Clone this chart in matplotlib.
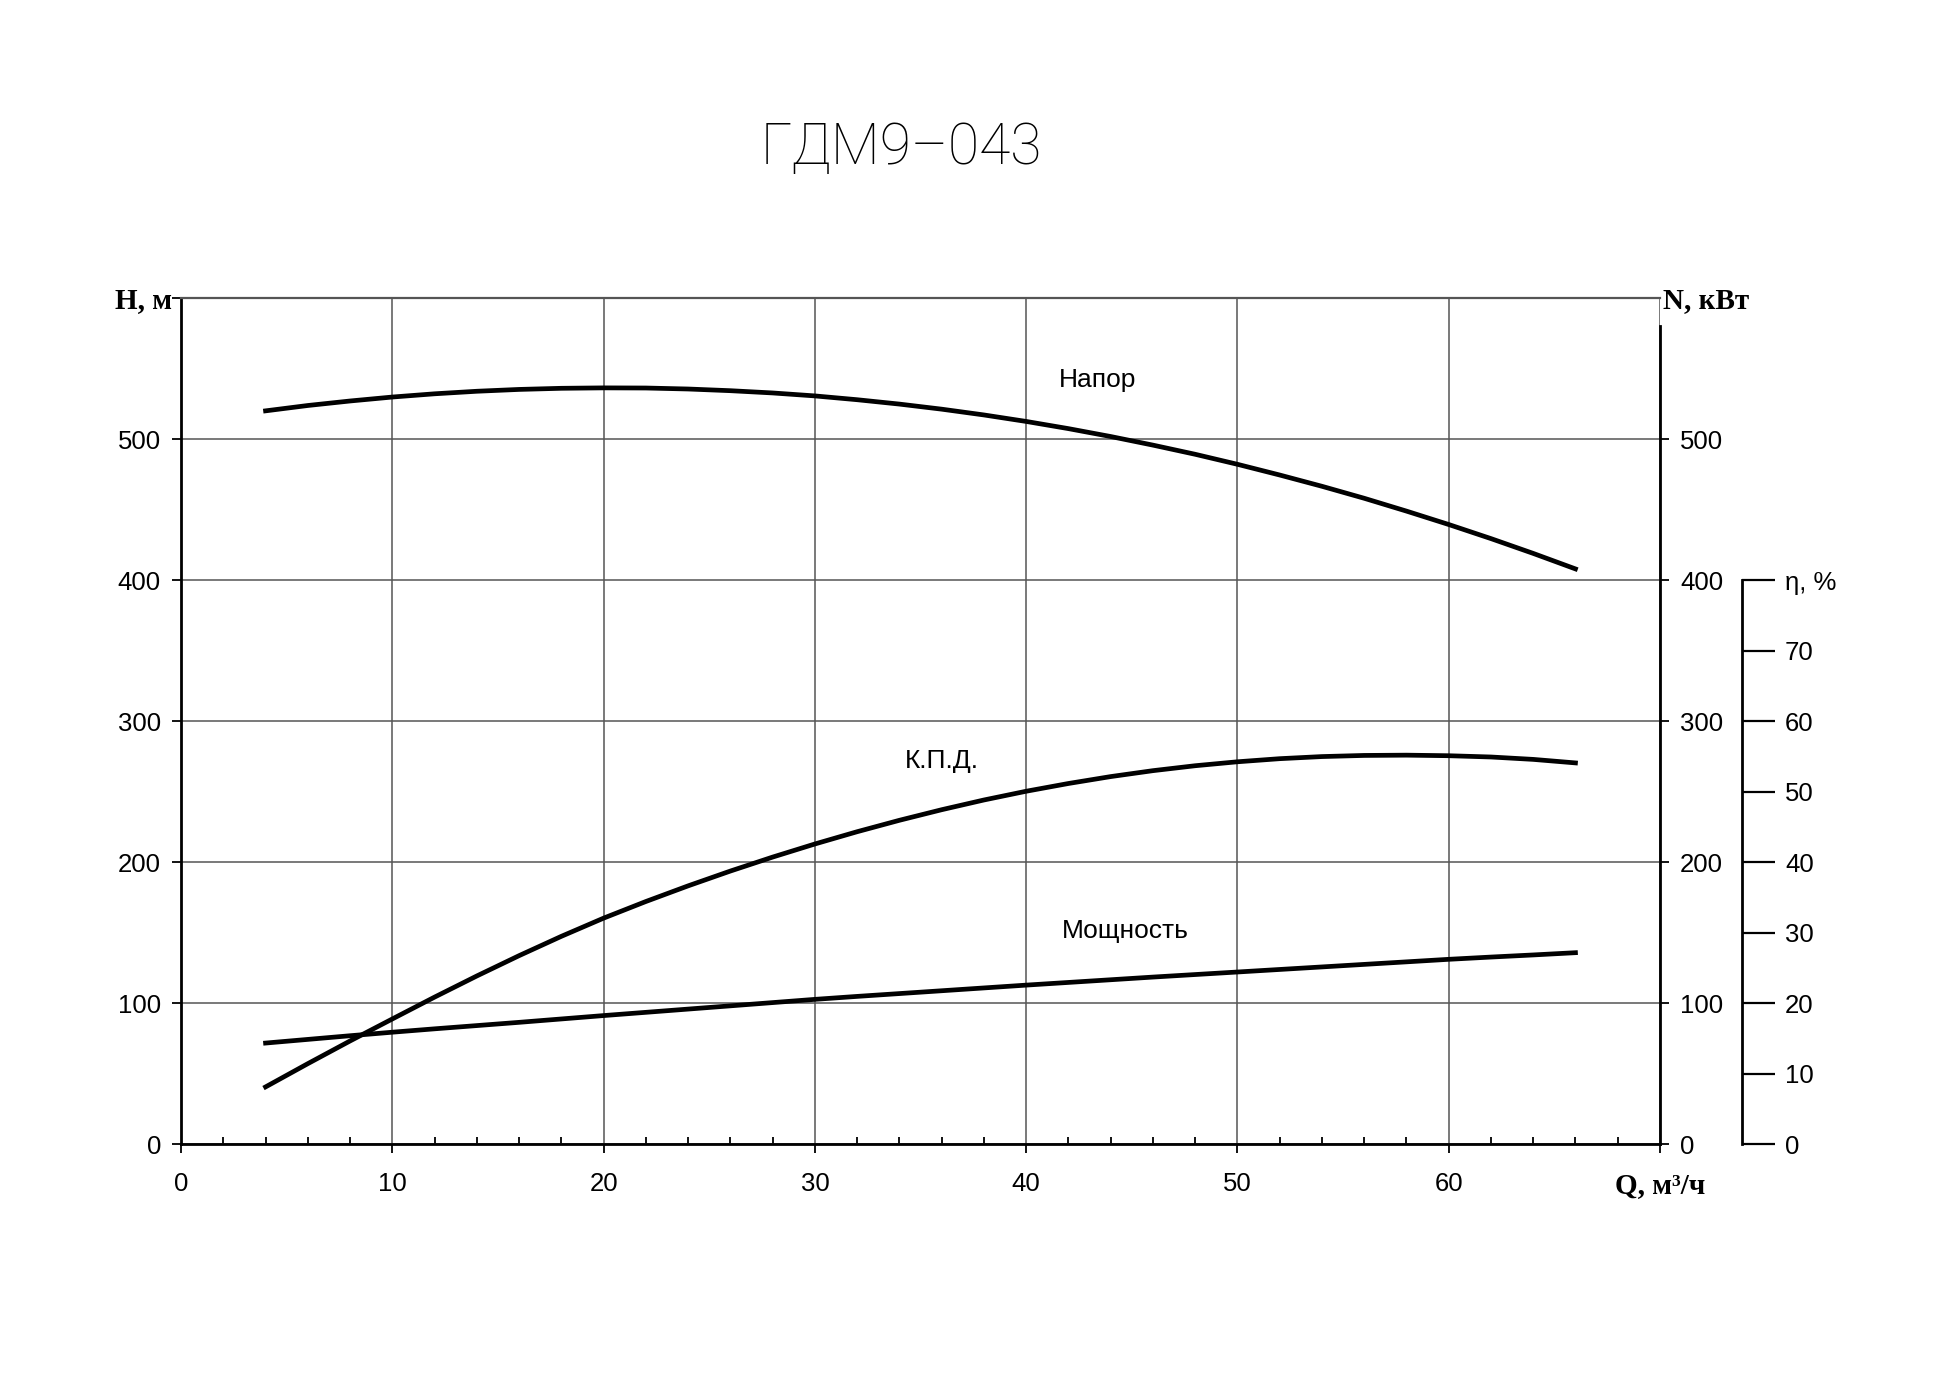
# coding=utf-8
"""Pump performance curves for ГДМ9-043: head, efficiency and power vs flow."""

import matplotlib
matplotlib.use("Agg")
import matplotlib.pyplot as plt
from matplotlib.ticker import MultipleLocator

# Flow rate, m3/h
flow = [4, 6, 8, 10, 12, 14, 16, 18, 20, 22, 24, 26, 28, 30, 32, 34, 36,
        38, 40, 42, 44, 46, 48, 50, 52, 54, 56, 58, 60, 62, 64, 66]
# Head, m
head = [520.0, 523.8, 527.0, 529.8, 532.1, 533.9, 535.2, 536.0, 536.3,
        536.2, 535.5, 534.3, 532.7, 530.6, 527.9, 524.8, 521.2, 517.1,
        512.5, 507.4, 501.8, 495.7, 489.2, 482.1, 474.5, 466.5, 458.0,
        448.9, 439.4, 429.4, 418.9, 407.9]
# Efficiency, %
efficiency = [8.1, 11.4, 14.62, 17.74, 20.84, 23.84, 26.72, 29.46, 32.04,
              34.4, 36.62, 38.72, 40.7, 42.56, 44.3, 45.92, 47.42, 48.8,
              50.04, 51.14, 52.12, 52.96, 53.66, 54.22, 54.66, 54.96, 55.12,
              55.16, 55.08, 54.9, 54.56, 54.06]
# Power, kW
power = [71.6, 74.2, 76.8, 79.3, 81.7, 84.0, 86.3, 88.7, 91.1, 93.4, 95.7,
         98.0, 100.3, 102.6, 104.7, 106.7, 108.7, 110.7, 112.7, 114.6, 116.5,
         118.4, 120.2, 122.0, 123.8, 125.6, 127.4, 129.2, 131.0, 132.6,
         134.1, 135.7]

x_ticks = [0, 10, 20, 30, 40, 50, 60, 70]
x_labels = ["0", "10", "20", "30", "40", "50", "60", "Q, м³/ч"]
h_ticks = [0, 100, 200, 300, 400, 500, 600]
h_labels = ["0", "100", "200", "300", "400", "500", ""]
n_ticks = [0, 100, 200, 300, 400, 500]
eta_ticks = [0, 10, 20, 30, 40, 50, 60, 70, 80]
eta_labels = ["0", "10", "20", "30", "40", "50", "60", "70", "η, %"]

TICK_FONT = dict(family="Liberation Sans", size=18.5)
AXIS_FONT = dict(family="Liberation Serif", size=21, weight="bold")
GRID_COLOUR = "#555555"

fig = plt.figure(figsize=(19.49, 13.78), dpi=100)
ax = fig.add_axes([0.0929, 0.1698, 0.7588, 0.6139])
ax_n = ax.twinx()
ax_eta = ax.twinx()

# Main axes: flow vs head
ax.set_xlim(0, 70)
ax.set_ylim(0, 600)
ax.set_xticks(x_ticks)
ax.set_xticklabels(x_labels, **TICK_FONT)
ax.xaxis.set_minor_locator(MultipleLocator(2))
ax.set_yticks(h_ticks)
ax.set_yticklabels(h_labels, **TICK_FONT)
ax.get_xticklabels()[-1].set(**AXIS_FONT)
ax.tick_params(axis="x", which="major", direction="out", length=6.5,
               width=1.3, pad=14)
ax.tick_params(axis="x", which="minor", direction="in", length=5, width=1.3)
ax.tick_params(axis="y", direction="out", length=6.5, width=1.3, pad=8)
ax.grid(True, which="major", color=GRID_COLOUR, linewidth=1.1)
for side in ("left", "bottom"):
    ax.spines[side].set_linewidth(2)
ax.spines["top"].set_color(GRID_COLOUR)
ax.spines["top"].set_linewidth(1.6)
ax.spines["right"].set_visible(False)
ax.annotate("H, м", xy=(0.0, 600), xycoords=("axes fraction", "data"),
            xytext=(-6.5, -2), textcoords="offset points", ha="right",
            va="center", **AXIS_FONT)
ax.plot(flow, head, color="black", linewidth=3.4)

# Power axis on the right
ax_n.set_ylim(0, 600)
ax_n.set_yticks(n_ticks)
ax_n.set_yticklabels([str(t) for t in n_ticks], **TICK_FONT)
ax_n.tick_params(axis="y", direction="out", length=6.5, width=1.3, pad=8)
for side in ("left", "top", "bottom"):
    ax_n.spines[side].set_visible(False)
ax_n.spines["right"].set_linewidth(2)
ax_n.spines["right"].set_bounds(0, 580)
ax_n.annotate("N, кВт", xy=(1.0, 600), xycoords=("axes fraction", "data"),
              xytext=(2, -2), textcoords="offset points", ha="left",
              va="center", **AXIS_FONT)
ax_n.plot(flow, power, color="black", linewidth=3.4)

# Efficiency axis further right
ax_eta.set_ylim(0, 120)
ax_eta.spines["right"].set_position(("axes", 1.0555))
ax_eta.spines["right"].set_bounds(0, 80)
ax_eta.spines["right"].set_linewidth(2)
for side in ("left", "top", "bottom"):
    ax_eta.spines[side].set_visible(False)
ax_eta.set_yticks(eta_ticks)
ax_eta.set_yticklabels(eta_labels, **TICK_FONT)
ax_eta.tick_params(axis="y", direction="out", length=24, width=1.6, pad=7)
ax_eta.plot(flow, efficiency, color="black", linewidth=3.4)

# Curve captions
caption = dict(family="Liberation Sans", size=19, ha="center", va="center")
ax.text(43.4, 542, "Напор", **caption)
ax.text(36.0, 272, "К.П.Д.", **caption)
ax.text(44.7, 151, "Мощность", **caption)

fig.text(0.4625, 0.892, "ГДМ9–043", family="Roboto", weight="light",
         size=41, ha="center", va="center")

fig.savefig("out.png", dpi=100, facecolor="white")
